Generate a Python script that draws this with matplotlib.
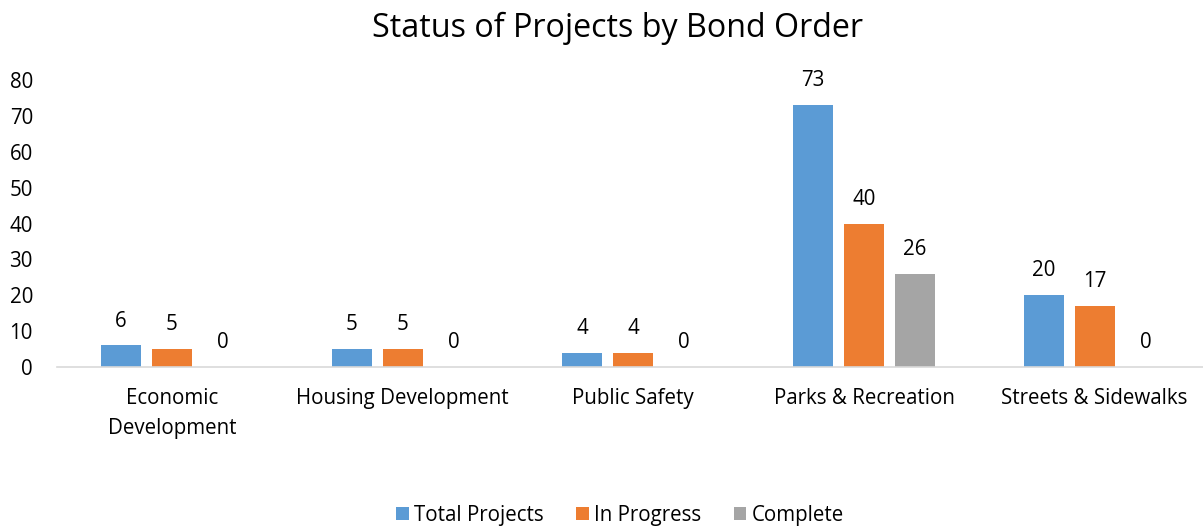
import matplotlib
matplotlib.use("Agg")
import matplotlib.pyplot as plt
import numpy as np

categories = ["Economic\nDevelopment", "Housing Development", "Public Safety",
              "Parks & Recreation", "Streets & Sidewalks"]
series_names = ["Total Projects", "In Progress", "Complete"]
total_projects = [6, 5, 4, 73, 20]
in_progress = [5, 5, 4, 40, 17]
complete = [0, 0, 0, 26, 0]
yticks = [0, 10, 20, 30, 40, 50, 60, 70, 80]

colors = ["#5B9BD5", "#ED7D31", "#A5A5A5"]
plt.rcParams['font.family'] = ['Open Sans', 'DejaVu Sans']

W, H = 1203, 527
fig = plt.figure(figsize=(W/100, H/100), dpi=100)
left, right = 56.5, 1210
bottom, top = 367, 80
ax = fig.add_axes([left/W, 1 - bottom/H, (right-left)/W, (bottom-top)/H])

fs = 14.8
x = np.arange(len(categories))
bw = 40/231
step = 51/231
for i, (vals, name, c) in enumerate(zip([total_projects, in_progress, complete], series_names, colors)):
    pos = x + (i-1)*step
    ax.bar(pos, vals, width=bw, color=c, label=name)
    for p, v in zip(pos, vals):
        ax.annotate(str(v), (p, v), xytext=(0, 17.5), textcoords='offset points',
                    ha='center', va='center', fontsize=fs, color='#000000')

ax.set_xlim(-0.5, len(categories)-0.5)
ax.set_ylim(0, 80)
ax.set_yticks(yticks)
ax.set_xticks(x)
ax.set_xticklabels(categories, fontsize=fs, linespacing=1.6)
ax.tick_params(axis='y', labelsize=fs, length=0, pad=17)
ax.tick_params(axis='x', length=0, pad=15)
for s in ['top', 'right', 'left']:
    ax.spines[s].set_visible(False)
ax.spines['bottom'].set_color('#D9D9D9')
ax.spines['bottom'].set_linewidth(1.2)

fig.text(617/W, 1 - 28/H, "Status of Projects by Bond Order", ha='center', va='center', fontsize=23.2)
fig.legend(loc='center', bbox_to_anchor=(620/W, 1 - 515/H), ncol=3, frameon=False,
           fontsize=fs, handlelength=0.6, handleheight=0.6, handletextpad=0.25, columnspacing=1.6)

fig.savefig("out.png", dpi=100)
